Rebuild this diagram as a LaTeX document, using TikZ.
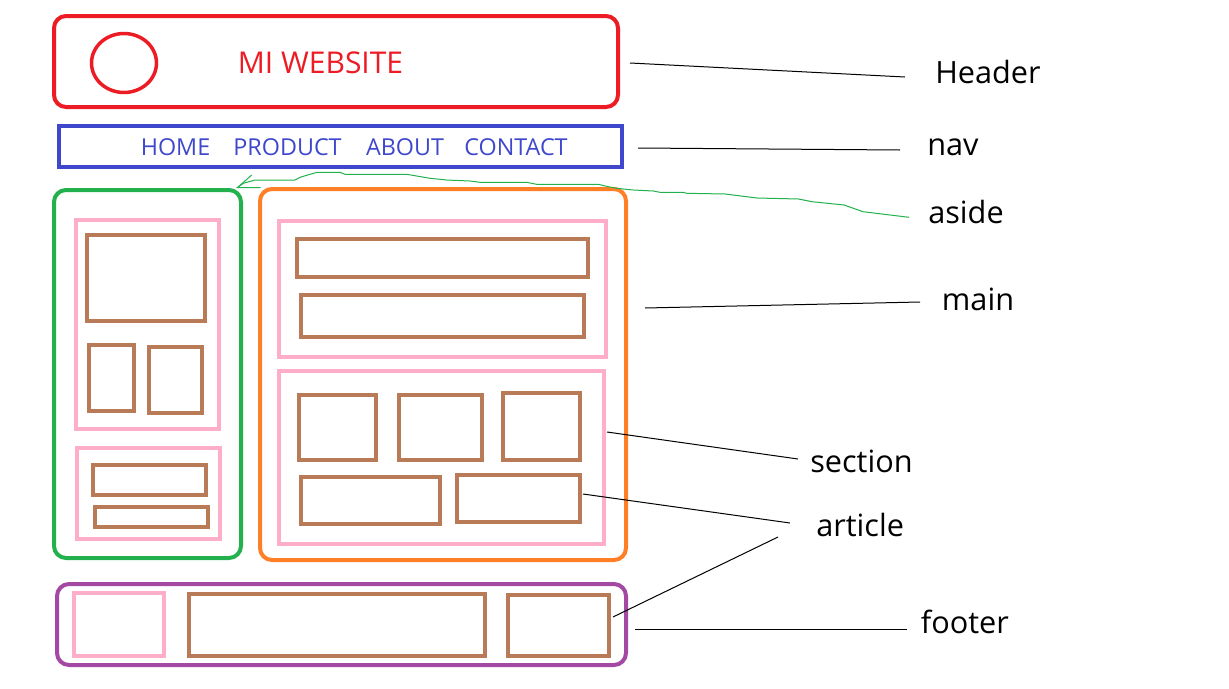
\documentclass[tikz,border=0pt]{standalone}
\usepackage{fontspec}
\setmainfont{Open Sans}
\definecolor{pred}{HTML}{ED1C24}
\definecolor{pblue}{HTML}{3F48CC}
\definecolor{pgreen}{HTML}{22B14C}
\definecolor{porange}{HTML}{FF7F27}
\definecolor{ppurple}{HTML}{A349A4}
\definecolor{ppink}{HTML}{FFAEC9}
\definecolor{pbrown}{HTML}{B97A57}
\tikzset{
  outerbox/.style={line width=3pt, rounded corners=9pt},
  innerbox/.style={line width=3pt, draw=ppink},
  itembox/.style={line width=3pt, draw=pbrown},
  conn/.style={line width=0.75pt, draw=black},
  lbl/.style={font=\fontsize{23}{27}\selectfont, text=black, inner sep=0pt, anchor=base west},
  navtxt/.style={font=\fontsize{17.5}{21}\selectfont, text=pblue, inner sep=0pt, anchor=base},
}
\begin{document}
\begin{tikzpicture}[x=0.75pt, y=-0.75pt]
\useasboundingbox (0,0) rectangle (1229,689);
\fill[white] (0,0) rectangle (1229,689);

% header
\draw[outerbox, draw=pred] (54,16) rectangle (618,107);
\draw[pred, line width=2.6pt] (124,63) ellipse [x radius=32.5, y radius=29.5];
\node[font=\fontsize{22.5}{26}\selectfont, text=pred, inner sep=0pt, anchor=base] (title) at (320.5,73) {MI WEBSITE};

% nav
\draw[pblue, line width=3pt] (59,126) rectangle (622,167);
\node[navtxt] (home) at (175.5,155) {HOME};
\node[navtxt] (product) at (287.5,155) {PRODUCT};
\node[navtxt] (about) at (405,155) {ABOUT};
\node[navtxt] (contact) at (516,155) {CONTACT};

% aside
\draw[outerbox, draw=pgreen] (54,190) rectangle (241,558);
\draw[innerbox] (76,220) rectangle (219,429);
\draw[itembox] (87,235) rectangle (205,321);
\draw[itembox] (89,345) rectangle (134,411);
\draw[itembox] (149,347) rectangle (202,413);
\draw[innerbox] (77,448) rectangle (220,539);
\draw[itembox] (93,465) rectangle (206,495);
\draw[itembox] (95,507) rectangle (208,527);

% main
\draw[outerbox, draw=porange] (260,189) rectangle (626,560);
\draw[innerbox] (279,221) rectangle (606,357);
\draw[itembox] (297,239) rectangle (588,277);
\draw[itembox] (301,295) rectangle (584,337);
\draw[innerbox] (279,371) rectangle (604,544);
\draw[itembox] (299,395) rectangle (376,460);
\draw[itembox] (399,395) rectangle (482,460);
\draw[itembox] (503,393) rectangle (580,460);
\draw[itembox] (301,477) rectangle (440,524);
\draw[itembox] (457,475) rectangle (580,522);

% footer
\draw[outerbox, draw=ppurple] (57,584) rectangle (626,665);
\draw[innerbox] (74,593) rectangle (164,656);
\draw[itembox] (189,594) rectangle (485,656);
\draw[itembox] (508,595) rectangle (609,656);

% labels
\node[lbl] (lheader) at (935,83.3) {Header};
\node[lbl] (lnav) at (927,155) {nav};
\node[lbl] (laside) at (928,223.3) {aside};
\node[lbl] (lmain) at (941.7,310) {main};
\node[lbl] (lsection) at (810,472) {section};
\node[lbl] (larticle) at (816,536.7) {article};
\node[lbl] (lfooter) at (920.7,633.3) {footer};

% connector end points
\coordinate (cheader) at (630,63);
\coordinate (eheader) at (905,77);
\coordinate (cnav) at (638,148);
\coordinate (enav) at (900,150);
\coordinate (cmain) at (645,308);
\coordinate (emain) at (920,302);
\coordinate (csection) at (607,432);
\coordinate (esection) at (798,459);
\coordinate (carticleA) at (583,494);
\coordinate (earticleA) at (790,523);
\coordinate (carticleB) at (613,617);
\coordinate (earticleB) at (778,537);
\coordinate (cfooter) at (635,629);
\coordinate (efooter) at (907,629);
\coordinate (asidetip) at (237.5,187.5);
\coordinate (easide) at (909,217.3);

\draw[conn] (cheader) -- (eheader);
\draw[conn] (cnav) -- (enav);
\draw[conn] (cmain) -- (emain);
\draw[conn] (csection) -- (esection);
\draw[conn] (carticleA) -- (earticleA);
\draw[conn] (earticleB) -- (carticleB);
\draw[conn] (cfooter) -- (efooter);

% aside hand-drawn arrow
\draw[pgreen, line width=0.75pt] (asidetip) -- (243.3,183.3) -- (255,180) -- (295,180) -- (300,177.3)
  -- (310,174.3) -- (317.3,172.3) -- (340,172.3) -- (345,174.3) -- (406.7,174.3) -- (416.7,176)
  -- (430,178.3) -- (446.7,180) -- (470,181) -- (480,182.3) -- (526.7,182.3) -- (536.7,184.3)
  -- (598.3,184.3) -- (608.3,186.7) -- (616.7,188.3) -- (633.3,190) -- (653.3,191) -- (660,192.3)
  -- (683.3,192.3) -- (686.7,193.3) -- (725,194) -- (757,198) -- (798.5,199) -- (812,201.7)
  -- (844,205) -- (863,211.7) -- (easide);
\draw[pgreen, line width=0.75pt] (251.7,175) -- (asidetip) -- (260.7,187.5);
\end{tikzpicture}
\end{document}
